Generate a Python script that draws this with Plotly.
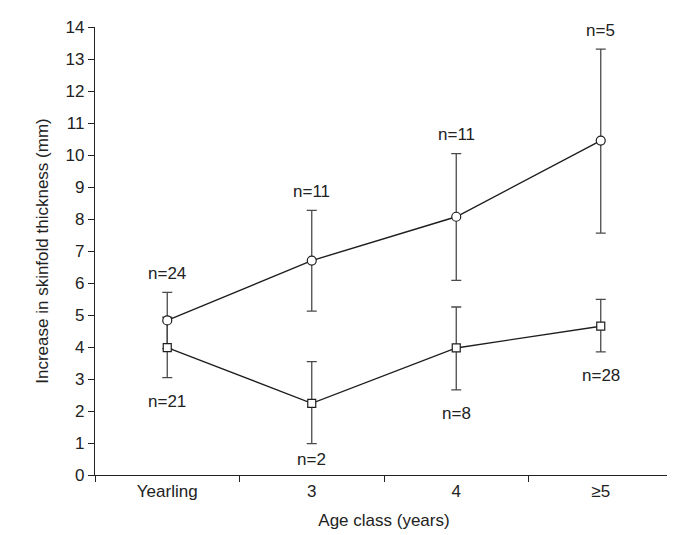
import plotly.graph_objects as go

categories = ["Yearling", "3", "4", "≥5"]

circle_mean = [4.83, 6.70, 8.07, 10.45]
circle_upper = [5.71, 8.27, 10.04, 13.31]
circle_lower = [3.95, 5.12, 6.08, 7.56]
circle_n = ["n=24", "n=11", "n=11", "n=5"]

square_mean = [3.98, 2.24, 3.97, 4.65]
square_upper = [4.93, 3.54, 5.25, 5.49]
square_lower = [3.04, 0.98, 2.66, 3.85]
square_n = ["n=21", "n=2", "n=8", "n=28"]

y_ticks = list(range(0, 15))

FONT = "Liberation Sans, Arial, Helvetica, sans-serif"
ERR = "#4a4a4a"
LINE = "#1e1e1e"
FS = 17

def errs(mean, up, lo):
    return [u - m for u, m in zip(up, mean)], [m - l for m, l in zip(mean, lo)]

fig = go.Figure()

cu, cl = errs(circle_mean, circle_upper, circle_lower)
su, sl = errs(square_mean, square_upper, square_lower)

# error bars first (underneath)
for mean, up, lo in [(square_mean, su, sl), (circle_mean, cu, cl)]:
    fig.add_trace(go.Scatter(
        x=categories, y=mean, mode="markers",
        marker=dict(size=2, color="rgba(0,0,0,0)"),
        error_y=dict(type="data", symmetric=False, array=up, arrayminus=lo,
                     color=ERR, thickness=1.3, width=5),
        showlegend=False, hoverinfo="skip",
    ))

# lines and markers on top
for mean, sym, size in [(square_mean, "square", 8), (circle_mean, "circle", 9)]:
    fig.add_trace(go.Scatter(
        x=categories, y=mean, mode="lines+markers",
        line=dict(color=LINE, width=1.4),
        marker=dict(symbol=sym, size=size, color="white",
                    line=dict(color=LINE, width=1.2)),
        showlegend=False, cliponaxis=False,
    ))

for i, (top, txt) in enumerate(zip(circle_upper, circle_n)):
    fig.add_annotation(x=i, y=top, xref="x", yref="y", text=txt, showarrow=False,
                       yanchor="middle", yshift=19,
                       font=dict(family=FONT, size=FS, color="#222"))

for i, (bot, txt) in enumerate(zip(square_lower, square_n)):
    shift = -16 if txt == "n=2" else -24
    fig.add_annotation(x=i, y=bot, xref="x", yref="y", text=txt, showarrow=False,
                       yanchor="middle", yshift=shift,
                       font=dict(family=FONT, size=FS, color="#222"))

fig.update_layout(
    width=675, height=535,
    margin=dict(l=87, r=10, t=19, b=68),
    paper_bgcolor="white", plot_bgcolor="white",
    font=dict(family=FONT, size=FS, color="#222"),
)
fig.update_xaxes(
    type="category", range=[-0.5, 3.5],
    showline=True, linecolor="#222", linewidth=1.2,
    ticks="outside", tickson="boundaries", ticklen=6, tickcolor="#222", tickwidth=1.2,
    showgrid=False, zeroline=False,
    title=dict(text="Age class (years)", font=dict(size=FS), standoff=14),
    tickfont=dict(size=FS),
)
fig.update_yaxes(
    range=[0, 14], tickvals=y_ticks,
    showline=True, linecolor="#222", linewidth=1.2,
    ticks="outside", ticklen=6, tickcolor="#222", tickwidth=1.2,
    showgrid=False, zeroline=False,
    title=dict(text="Increase in skinfold thickness (mm)", font=dict(size=FS), standoff=12),
    tickfont=dict(size=FS),
)

fig.write_html("out.html")
